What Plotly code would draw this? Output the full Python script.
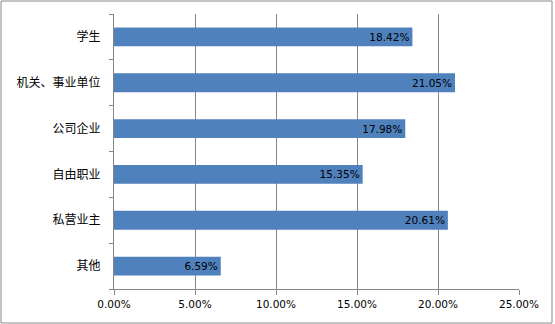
import plotly.graph_objects as go

# Occupation breakdown (share of respondents)
categories = ["学生", "机关、事业单位", "公司企业", "自由职业", "私营业主", "其他"]
shares = [18.42, 21.05, 17.98, 15.35, 20.61, 6.59]
tick_vals = [0, 5, 10, 15, 20, 25]
tick_text = ["0.00%", "5.00%", "10.00%", "15.00%", "20.00%", "25.00%"]

W, H = 555, 324
ML, MR, MT, MB = 114, 36, 14, 35
PW, PH = W - ML - MR, H - MT - MB


def px_x(px):
    return (px - ML) / PW


def px_y(py):
    return (H - MB - py) / PH


fig = go.Figure(
    go.Bar(
        y=categories,
        x=shares,
        orientation="h",
        marker=dict(color="#4F81BD", line=dict(width=0)),
        text=[f"{v:.2f}%" for v in shares],
        textposition="inside",
        insidetextanchor="end",
        textfont=dict(family="DejaVu Sans", size=10.5, color="#000000"),
        cliponaxis=False,
        width=0.41,
    )
)

fig.update_layout(
    width=W,
    height=H,
    margin=dict(l=ML, r=MR, t=MT, b=MB),
    paper_bgcolor="white",
    plot_bgcolor="white",
    showlegend=False,
    uniformtext=dict(mode=False),
    shapes=[
        dict(
            type="rect",
            xref="paper",
            yref="paper",
            x0=px_x(1),
            x1=px_x(552),
            y0=px_y(323),
            y1=px_y(1),
            line=dict(color="#888888", width=1),
            fillcolor="rgba(0,0,0,0)",
            layer="below",
        )
    ],
)

fig.update_xaxes(
    range=[0, 25],
    tickvals=tick_vals,
    ticktext=tick_text,
    showgrid=True,
    gridcolor="#868686",
    gridwidth=1,
    zeroline=False,
    showline=True,
    linecolor="#868686",
    ticks="outside",
    ticklen=5,
    tickcolor="#868686",
    tickfont=dict(family="DejaVu Sans", size=10.5, color="#000000"),
    fixedrange=True,
)

fig.update_yaxes(
    categoryorder="array",
    categoryarray=categories[::-1],
    showgrid=False,
    zeroline=False,
    showline=True,
    linecolor="#868686",
    ticks="outside",
    tickson="boundaries",
    ticklen=4,
    tickcolor="#868686",
    ticklabelstandoff=10,
    tickfont=dict(family="Noto Sans CJK SC", size=12, color="#000000"),
    fixedrange=True,
)

fig.write_html("out.html")
